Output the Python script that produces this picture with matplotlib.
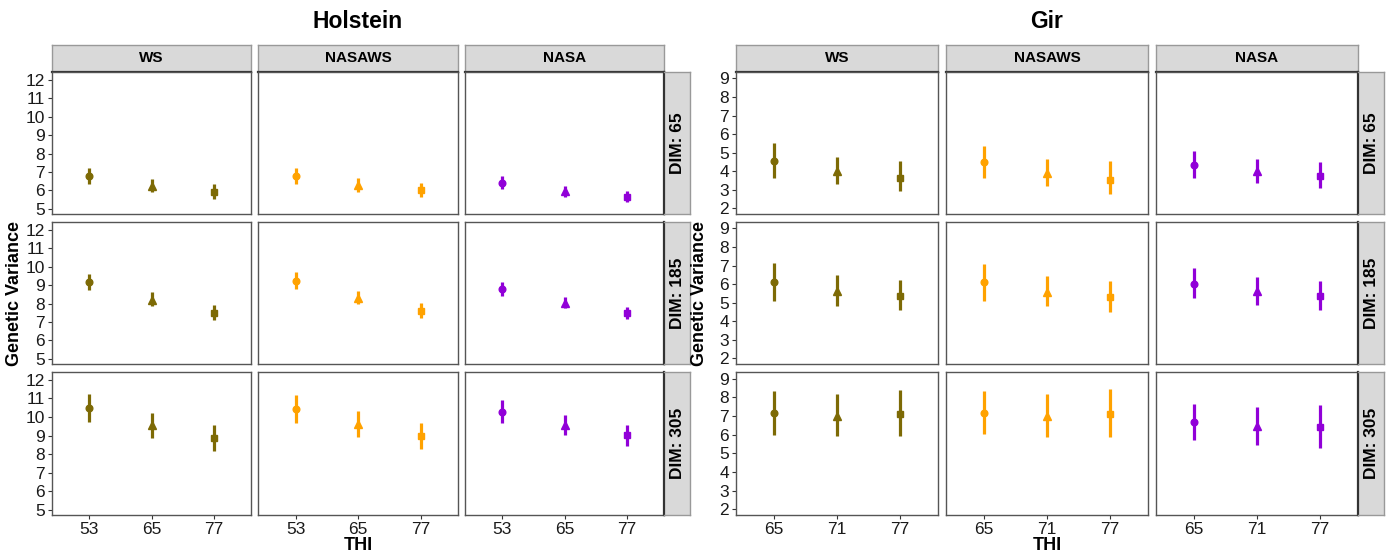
import matplotlib
matplotlib.use("Agg")
import matplotlib.pyplot as plt

W, H = 1393, 552

methods = ["WS", "NASAWS", "NASA"]
dims = ["DIM: 65", "DIM: 185", "DIM: 305"]
colors = {"WS": "#7d6a05", "NASAWS": "#ffa200", "NASA": "#9100d8"}
shapes = ["o", "^", "s"]
shape_size = {"o": 4.8, "^": 5.8, "s": 4.8}

# Holstein, rows = DIM 65 / 185 / 305, cols = THI levels
holstein_thi = ["53", "65", "77"]
hol_ws_mean = [[6.79, 6.25, 5.93], [9.18, 8.18, 7.50], [10.46, 9.57, 8.87]]
hol_ws_low = [[6.34, 5.90, 5.52], [8.73, 7.86, 7.09], [9.71, 8.87, 8.14]]
hol_ws_high = [[7.19, 6.60, 6.33], [9.62, 8.61, 7.91], [11.23, 10.20, 9.54]]
hol_nasaws_mean = [[6.79, 6.27, 6.02], [9.23, 8.30, 7.61], [10.41, 9.63, 9.00]]
hol_nasaws_low = [[6.34, 5.93, 5.64], [8.77, 7.96, 7.23], [9.68, 8.93, 8.29]]
hol_nasaws_high = [[7.22, 6.65, 6.40], [9.70, 8.68, 8.02], [11.20, 10.30, 9.70]]
hol_nasa_mean = [[6.42, 5.97, 5.66], [8.80, 8.02, 7.46], [10.29, 9.57, 9.02]]
hol_nasa_low = [[6.08, 5.66, 5.36], [8.41, 7.73, 7.14], [9.68, 9.04, 8.46]]
hol_nasa_high = [[6.78, 6.25, 5.97], [9.16, 8.36, 7.80], [10.89, 10.09, 9.55]]

# Gir
gir_thi = ["65", "71", "77"]
gir_ws_mean = [[4.58, 4.01, 3.66], [6.11, 5.65, 5.38], [7.13, 7.00, 7.09]]
gir_ws_low = [[3.66, 3.34, 2.93], [5.08, 4.85, 4.59], [5.99, 5.92, 5.92]]
gir_ws_high = [[5.51, 4.78, 4.58], [7.14, 6.50, 6.24], [8.34, 8.16, 8.38]]
gir_nasaws_mean = [[4.51, 3.91, 3.53], [6.11, 5.60, 5.30], [7.15, 7.00, 7.08]]
gir_nasaws_low = [[3.66, 3.23, 2.77], [5.12, 4.80, 4.48], [6.01, 5.88, 5.88]]
gir_nasaws_high = [[5.35, 4.67, 4.53], [7.09, 6.43, 6.15], [8.36, 8.16, 8.43]]
gir_nasa_mean = [[4.32, 4.00, 3.76], [6.02, 5.62, 5.35], [6.65, 6.45, 6.40]]
gir_nasa_low = [[3.62, 3.35, 3.10], [5.23, 4.89, 4.62], [5.72, 5.47, 5.31]]
gir_nasa_high = [[5.10, 4.64, 4.48], [6.89, 6.39, 6.15], [7.65, 7.47, 7.56]]

breeds = [
    {
        "title": "Holstein", "thi": holstein_thi,
        "ylim": (4.72, 12.42), "yticks": range(5, 13),
        "cols": [(52, 251), (258, 458), (465, 664)], "strip": (664, 690),
        "data": {
            "WS": (hol_ws_mean, hol_ws_low, hol_ws_high),
            "NASAWS": (hol_nasaws_mean, hol_nasaws_low, hol_nasaws_high),
            "NASA": (hol_nasa_mean, hol_nasa_low, hol_nasa_high),
        },
    },
    {
        "title": "Gir", "thi": gir_thi,
        "ylim": (1.70, 9.35), "yticks": range(2, 10),
        "cols": [(736, 938), (946, 1148), (1156, 1358)], "strip": (1358, 1384),
        "data": {
            "WS": (gir_ws_mean, gir_ws_low, gir_ws_high),
            "NASAWS": (gir_nasaws_mean, gir_nasaws_low, gir_nasaws_high),
            "NASA": (gir_nasa_mean, gir_nasa_low, gir_nasa_high),
        },
    },
]

rows = [(72, 214), (222, 364), (372, 515)]
top_strip = (45, 72)

font = ["Liberation Sans", "DejaVu Sans"]
plt.rcParams["font.family"] = font

fig = plt.figure(figsize=(W / 100, H / 100), dpi=100)


def px_axes(x0, x1, y0, y1):
    return fig.add_axes([x0 / W, 1 - y1 / H, (x1 - x0) / W, (y1 - y0) / H])


def style_strip(ax, dark_side):
    ax.set_facecolor("#d9d9d9")
    ax.set_xticks([])
    ax.set_yticks([])
    for side, sp in ax.spines.items():
        sp.set_color("#999999")
        sp.set_linewidth(1.0)
    ax.spines[dark_side].set_color("#333333")
    ax.spines[dark_side].set_linewidth(1.6)


for b in breeds:
    cols = b["cols"]
    # breed title
    cx = (cols[0][0] + cols[-1][1]) / 2
    fig.text(cx / W, 1 - 22 / H, b["title"], ha="center", va="center",
             fontsize=16.5, fontweight="bold")

    for ci, m in enumerate(methods):
        x0, x1 = cols[ci]
        sax = px_axes(x0, x1, *top_strip)
        style_strip(sax, "bottom")
        sax.text(0.5, 0.5, m, ha="center", va="center", fontsize=11,
                 fontweight="bold", transform=sax.transAxes)

        mean, low, high = b["data"][m]
        for ri in range(3):
            y0, y1 = rows[ri]
            ax = px_axes(x0, x1, y0, y1)
            for k in range(3):
                ax.vlines(k, low[ri][k], high[ri][k], color=colors[m], lw=2.3)
                ax.plot(k, mean[ri][k], marker=shapes[k], color=colors[m],
                        markersize=shape_size[shapes[k]], linestyle="none")
            ax.set_xlim(-0.6, 2.6)
            ax.set_ylim(*b["ylim"])
            for sp in ax.spines.values():
                sp.set_color("#555555")
                sp.set_linewidth(1.0)
            ax.set_yticks(list(b["yticks"]))
            ax.set_xticks(range(3))
            ax.tick_params(axis="both", length=3, width=0.8, color="#333333",
                           labelsize=12.5, labelcolor="#1a1a1a", pad=2)
            if ci == 0:
                ax.set_yticklabels([str(v) for v in b["yticks"]])
            else:
                ax.tick_params(axis="y", left=False, labelleft=False)
            if ri == 2:
                ax.set_xticklabels(b["thi"])
            else:
                ax.tick_params(axis="x", bottom=False, labelbottom=False)

    # right strips
    sx0, sx1 = b["strip"]
    for ri in range(3):
        y0, y1 = rows[ri]
        rax = px_axes(sx0, sx1, y0, y1)
        style_strip(rax, "left")
        rax.text(0.5, 0.5, dims[ri], ha="center", va="center", rotation=90,
                 fontsize=12.5, fontweight="bold", transform=rax.transAxes)

    # axis labels
    fig.text((cols[0][0] - 37) / W, 1 - 293 / H, "Genetic Variance", rotation=90,
             ha="center", va="center", fontsize=13, fontweight="bold")
    fig.text(cx / W, 1 - 545 / H, "THI", ha="center", va="center",
             fontsize=13, fontweight="bold")

fig.savefig("out.png", dpi=100)
